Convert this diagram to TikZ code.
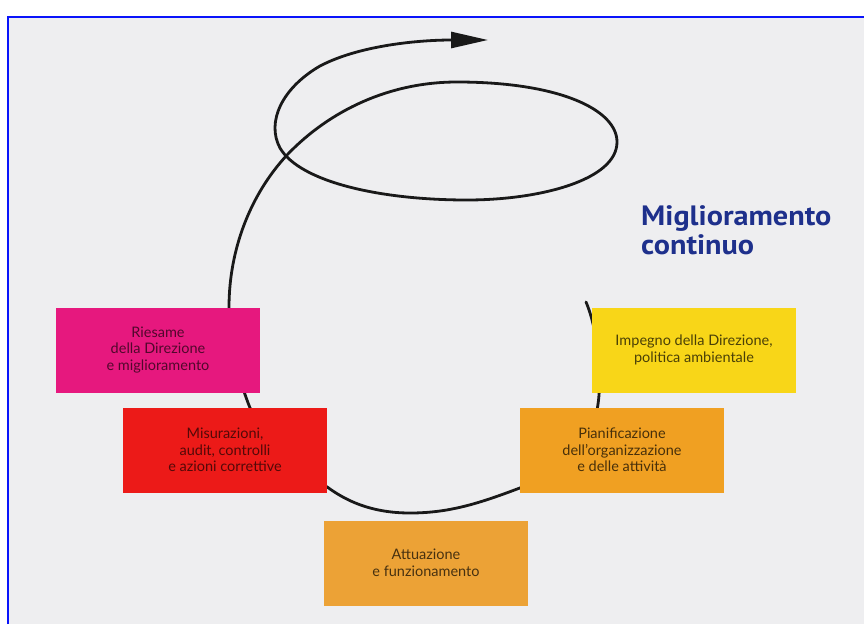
\documentclass[tikz,border=0pt]{standalone}
\usepackage{fontspec}
\setmainfont{Lato}
\newfontfamily\titlefont{PT Sans}
\usepackage{xcolor}
\usetikzlibrary{arrows.meta,positioning,backgrounds}

\definecolor{pagegray}{RGB}{238,238,240}
\definecolor{framblue}{RGB}{10,20,250}
\definecolor{titleblue}{RGB}{30,48,140}
\definecolor{boxpink}{RGB}{230,24,126}
\definecolor{boxred}{RGB}{236,26,24}
\definecolor{boxyellow}{RGB}{248,214,24}
\definecolor{boxorange}{RGB}{240,160,34}
\definecolor{boxamber}{RGB}{236,162,54}

\begin{document}
\begin{tikzpicture}[
        x=1pt, y=-1pt,
        box/.style={rectangle, minimum width=204pt, minimum height=85pt, inner sep=2pt, align=center, font=\fontsize{14.5}{16.5}\selectfont},
        spiral/.style={line width=2.8pt, line cap=round, black!90}
    ]
        \useasboundingbox (0,0) rectangle (864,624);

        % the five steps of the cycle
        \node[box, fill=boxpink, text=boxpink!35!black] (riesame) at (158,350) {Riesame\\della Direzione\\e miglioramento};
        \node[box, fill=boxred, text=boxred!35!black] (misure) at (225,450) {Misurazioni,\\audit, controlli\\e azioni correttive};
        \node[box, fill=boxyellow, text=boxyellow!30!black] (impegno) at (694,350) {Impegno della Direzione,\\politica ambientale};
        \node[box, fill=boxorange, text=boxorange!30!black] (piano) at (622,450) {Pianificazione\\dell’organizzazione\\e delle attività};
        \node[box, fill=boxamber, text=boxamber!30!black] (attuazione) at (426,563) {Attuazione\\e funzionamento};

        \node[anchor=north west, align=left, inner sep=0pt, text=titleblue, font=\titlefont\bfseries\fontsize{28}{29}\selectfont] (titolo) at (641,205) {\scalebox{1.08}[1]{Miglioramento}\\\scalebox{1.08}[1]{continuo}};

        \coordinate (start) at (586,302);

        \begin{pgfonlayer}{background}
            \fill[pagegray] (8,17) rectangle (864,624);
            \draw[framblue, line width=1.4pt] (8,624) -- (8,17) -- (864,17);
            % spiral behind the boxes
            \draw[spiral, -{Triangle[length=37pt,width=16pt]}] (start)
                .. controls (598,330) and (603,380) .. (597,410)
                .. controls (580,460) and (550,478) .. (piano.west |- 0,488)
                .. controls (480,503) and (450,513) .. (410,513)
                .. controls (370,513) and (345,500) .. (misure.east |- 0,487)
                .. controls (285,462) and (258,432) .. (247,400)
                .. controls (236,370) and (229,340) .. (riesame.north -| 229,0)
                .. controls (229,250) and (250,195) .. (287,155)
                .. controls (330,110) and (390,82) .. (457,82)
                .. controls (560,82) and (617,110) .. (617,142)
                .. controls (617,180) and (540,200) .. (467,200)
                .. controls (380,200) and (300,182) .. (280,148)
                .. controls (266,122) and (282,88) .. (320,66)
                .. controls (360,45) and (420,40) .. (488,40);
        \end{pgfonlayer}
    \end{tikzpicture}
\end{document}
